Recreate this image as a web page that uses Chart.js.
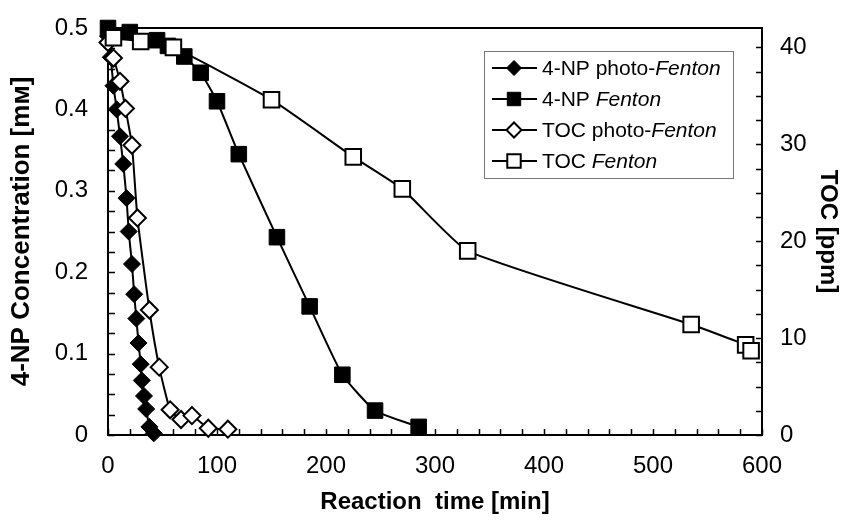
<!DOCTYPE html>
<html>
<head>
<meta charset="utf-8">
<script src="https://cdn.jsdelivr.net/npm/chart.js@4.4.1/dist/chart.umd.min.js"></script>
<style>
  html, body { margin: 0; padding: 0; background: #fff; }
</style>
</head>
<body>
<canvas id="chart" width="846" height="525"></canvas>
<script>
// 4-NP concentration [mM] vs reaction time [min]
const npPhotoTime = [0, 2.5, 5, 8, 11, 14, 17, 19, 22, 24, 26, 28, 30, 31, 33, 35, 38, 42];
const npPhotoConc = [0.49, 0.464, 0.429, 0.40, 0.367, 0.333, 0.291, 0.25, 0.21, 0.173, 0.143, 0.113, 0.087, 0.067, 0.048, 0.032, 0.01, 0.002];
const npFentonTime = [0, 20, 45, 55, 70, 85, 100, 120, 155, 185, 215, 245, 285];
const npFentonConc = [0.5, 0.495, 0.485, 0.478, 0.465, 0.445, 0.41, 0.345, 0.243, 0.158, 0.074, 0.03, 0.01];

// TOC [ppm] vs reaction time [min]
const tocPhotoTime = [0, 5, 11, 16, 22, 27, 38, 47, 57, 67, 77, 92, 110];
const tocPhotoVal = [40.5, 38.9, 36.5, 33.7, 29.9, 22.4, 12.9, 7.0, 2.6, 1.6, 2.0, 0.7, 0.6];
const tocFentonTime = [5, 30, 60, 150, 225, 270, 330, 535, 585, 590];
const tocFentonVal = [41.0, 40.6, 40.0, 34.6, 28.7, 25.4, 19.0, 11.4, 9.3, 8.7];

// Axis ticks
const xTicks = [0, 100, 200, 300, 400, 500, 600];
const leftTicks = [0, 0.1, 0.2, 0.3, 0.4, 0.5];
const rightTicks = [0, 10, 20, 30, 40];
const xMinorStep = 20;
const leftMinorStep = 0.025;
const rightMinorStep = 2.5;

const FONT = "'Liberation Sans', Arial, sans-serif";

function toPoints(xs, ys) {
  return xs.map((x, i) => ({ x: x, y: ys[i] }));
}

function series(label, xs, ys, axis, style, filled, radius, order) {
  return {
    label: label,
    data: toPoints(xs, ys),
    yAxisID: axis,
    borderColor: "#000",
    borderWidth: 2,
    tension: 0.15,
    pointStyle: style,
    pointRadius: radius,
    pointHoverRadius: radius,
    pointBackgroundColor: filled ? "#000" : "#fff",
    pointBorderColor: "#000",
    pointBorderWidth: filled ? 1 : 2,
    clip: false,
    order: order
  };
}

// Frame and inward tick marks
const framePlugin = {
  id: "frame",
  beforeDatasetsDraw(chart) {
    const { ctx, chartArea: a, scales } = chart;
    ctx.save();
    ctx.strokeStyle = "#000";
    ctx.lineWidth = 2;
    ctx.strokeRect(a.left, a.top, a.right - a.left, a.bottom - a.top);
    ctx.lineWidth = 1.5;
    ctx.beginPath();
    for (let v = 0; v <= 600 + 1e-6; v += xMinorStep) {
      const px = Math.round(scales.x.getPixelForValue(v)) + 0.5;
      ctx.moveTo(px, a.bottom);
      ctx.lineTo(px, a.bottom - 6);
    }
    for (let v = 0; v <= 0.5 + 1e-6; v += leftMinorStep) {
      const py = Math.round(scales.y.getPixelForValue(v)) + 0.5;
      ctx.moveTo(a.left, py);
      ctx.lineTo(a.left + 7, py);
    }
    for (let v = 0; v <= 42; v += rightMinorStep) {
      const py = Math.round(scales.y2.getPixelForValue(v)) + 0.5;
      ctx.moveTo(a.right, py);
      ctx.lineTo(a.right - 6, py);
    }
    ctx.stroke();
    ctx.restore();
  }
};

// Legend with italic "Fenton"
const legendPlugin = {
  id: "fentonLegend",
  afterDatasetsDraw(chart) {
    const { ctx, chartArea: a } = chart;
    const left = a.left + 376, top = a.top + 23, w = 249, h = 127;
    ctx.save();
    ctx.fillStyle = "#fff";
    ctx.fillRect(left, top, w, h);
    ctx.strokeStyle = "#777";
    ctx.lineWidth = 1;
    ctx.strokeRect(left + 0.5, top + 0.5, w, h);
    chart.data.datasets.forEach((ds, i) => {
      const y = top + 17 + i * 31;
      ctx.strokeStyle = "#000";
      ctx.lineWidth = 2;
      ctx.beginPath();
      ctx.moveTo(left + 8, y);
      ctx.lineTo(left + 53, y);
      ctx.stroke();
      ctx.fillStyle = ds.pointBackgroundColor;
      ctx.lineWidth = ds.pointBorderWidth;
      Chart.helpers.drawPoint(ctx, {
        pointStyle: ds.pointStyle,
        radius: ds.pointStyle === "rect" ? 9.5 : 7.5,
        borderWidth: ds.pointBorderWidth,
        rotation: 0
      }, left + 30, y);
      let x = left + 58;
      ds.label.split(/(Fenton)/).filter(Boolean).forEach((part) => {
        ctx.font = (part === "Fenton" ? "italic " : "") + "21px " + FONT;
        ctx.fillStyle = "#000";
        ctx.textBaseline = "middle";
        ctx.textAlign = "left";
        ctx.fillText(part, x, y + 1);
        x += ctx.measureText(part).width;
      });
    });
    ctx.restore();
  }
};

const tickFont = { family: FONT, size: 24 };
const titleFont = { family: FONT, size: 24, weight: "bold" };

new Chart(document.getElementById("chart"), {
  type: "line",
  data: {
    datasets: [
      series("4-NP photo-Fenton", npPhotoTime, npPhotoConc, "y", "rectRot", true, 8.5, 4),
      series("4-NP Fenton", npFentonTime, npFentonConc, "y", "rect", true, 11, 3),
      series("TOC photo-Fenton", tocPhotoTime, tocPhotoVal, "y2", "rectRot", false, 8.5, 2),
      series("TOC Fenton", tocFentonTime, tocFentonVal, "y2", "rect", false, 11, 1)
    ]
  },
  options: {
    responsive: false,
    animation: false,
    layout: { padding: { top: 28, left: 0, right: 0, bottom: 0 } },
    plugins: {
      legend: { display: false },
      tooltip: { enabled: false }
    },
    scales: {
      x: {
        type: "linear",
        min: 0,
        max: 600,
        afterBuildTicks: (s) => { s.ticks = xTicks.map((v) => ({ value: v })); },
        afterFit: (s) => { s.height = 90; },
        ticks: { font: tickFont, color: "#000", padding: 9, autoSkip: false, maxRotation: 0 },
        grid: { display: false },
        border: { display: false },
        title: {
          display: true,
          text: "Reaction  time [min]",
          font: titleFont,
          color: "#000",
          padding: { top: 0, bottom: 8 }
        }
      },
      y: {
        type: "linear",
        position: "left",
        min: 0,
        max: 0.5,
        afterBuildTicks: (s) => { s.ticks = leftTicks.map((v) => ({ value: v })); },
        afterFit: (s) => { s.width = 108; },
        ticks: { font: tickFont, color: "#000", padding: 12, autoSkip: false },
        grid: { display: false },
        border: { display: false },
        title: {
          display: true,
          text: "4-NP Concentration [m\u1D0D]",
          font: { family: FONT, size: 26, weight: "bold" },
          color: "#000",
          padding: { top: 6, bottom: 0 }
        }
      },
      y2: {
        type: "linear",
        position: "right",
        min: 0,
        max: 42,
        afterBuildTicks: (s) => { s.ticks = rightTicks.map((v) => ({ value: v })); },
        afterFit: (s) => { s.width = 84; },
        ticks: { font: tickFont, color: "#000", padding: 10, autoSkip: false },
        grid: { display: false },
        border: { display: false },
        title: {
          display: true,
          text: "TOC [ppm]",
          font: titleFont,
          color: "#000",
          padding: { top: 4, bottom: 0 }
        }
      }
    }
  },
  plugins: [framePlugin, legendPlugin]
});
</script>
</body>
</html>
